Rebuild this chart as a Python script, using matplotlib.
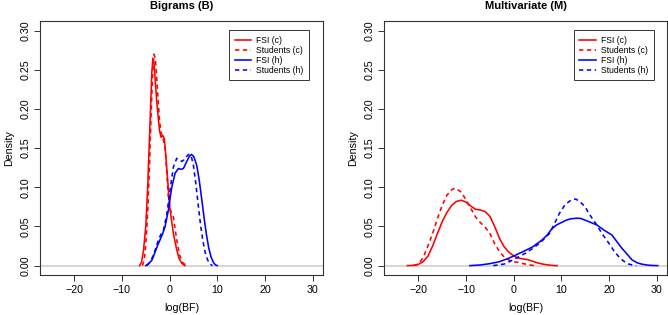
import matplotlib
matplotlib.use("Agg")
import matplotlib.pyplot as plt

plt.rcParams['font.family'] = ['Liberation Sans', 'DejaVu Sans']

# ---------------- data ----------------
titles = ["Bigrams (B)", "Multivariate (M)"]
legend_labels = ["FSI (c)", "Students (c)", "FSI (h)", "Students (h)"]
x_ticks = [-20, -10, 0, 10, 20, 30]
y_ticks = [0.00, 0.05, 0.10, 0.15, 0.20, 0.25, 0.30]
y_tick_labels = ["0.00", "0.05", "0.10", "0.15", "0.20", "0.25", "0.30"]

# Bigrams
bg_fsi_c_x = [-6.3, -5.9, -5.5, -5.0, -4.6, -4.3, -4.0, -3.75, -3.5, -3.25, -3.0, -2.7, -2.4,
              -2.1, -1.8, -1.4, -1.1, -0.9, -0.6, -0.25, 0.1, 0.8, 1.5, 2.0, 2.55, 3.2]
bg_fsi_c_y = [0.0, 0.004, 0.018, 0.05, 0.10, 0.15, 0.20, 0.245, 0.265, 0.258, 0.235, 0.21, 0.19,
              0.172, 0.164, 0.166, 0.162, 0.148, 0.125, 0.097, 0.071, 0.041, 0.02, 0.009, 0.003, 0.0]

bg_stu_c_x = [-5.7, -5.3, -4.9, -4.5, -4.2, -3.9, -3.6, -3.3, -3.0, -2.7, -2.4, -2.1, -1.8, -1.5,
              -1.2, -0.9, -0.6, -0.3, 0.1, 0.5, 0.8, 1.2, 1.5, 1.9, 2.2, 2.7, 3.3, 3.8]
bg_stu_c_y = [0.0, 0.008, 0.035, 0.08, 0.13, 0.19, 0.24, 0.27, 0.265, 0.24, 0.21, 0.185, 0.17, 0.165,
              0.158, 0.148, 0.12, 0.09, 0.072, 0.066, 0.062, 0.045, 0.033, 0.02, 0.0115, 0.004, 0.001, 0.0]

bg_fsi_h_x = [-5.0, -4.5, -4.0, -3.7, -3.0, -2.5, -2.0, -1.5, -0.94, -0.25, 0.45, 1.15, 1.85, 2.4,
              2.9, 3.6, 4.1, 4.6, 5.1, 5.7, 6.2, 6.7, 7.2, 7.7, 8.2, 8.7, 9.2, 9.6, 10.0]
bg_fsi_h_y = [0.0, 0.002, 0.005, 0.007, 0.018, 0.026, 0.033, 0.04, 0.05, 0.071, 0.10, 0.118, 0.124, 0.123,
              0.124, 0.133, 0.139, 0.142, 0.139, 0.128, 0.11, 0.087, 0.063, 0.041, 0.023, 0.011, 0.004, 0.001, 0.0]

bg_stu_h_x = [-4.8, -4.3, -3.8, -3.3, -2.8, -2.3, -1.8, -1.3, -0.6, 0.1, 0.8, 1.5, 2.0, 2.55, 3.0,
              3.5, 4.0, 4.5, 5.0, 5.5, 6.0, 6.5, 7.0, 7.5, 8.0, 8.5, 9.0]
bg_stu_h_y = [0.0, 0.003, 0.008, 0.015, 0.024, 0.034, 0.04, 0.045, 0.065, 0.097, 0.126, 0.137, 0.135, 0.133, 0.135,
              0.139, 0.142, 0.141, 0.128, 0.105, 0.078, 0.052, 0.031, 0.016, 0.007, 0.002, 0.0]

# Multivariate
mv_fsi_c_x = [-22.3, -21, -20, -19, -18, -17, -16, -15, -14, -13, -12, -11, -10, -9, -8, -7, -6, -5,
              -4, -3, -2, -1, 0, 1, 2, 3, 4, 5, 6, 7, 8, 9.1]
mv_fsi_c_y = [0.0, 0.0003, 0.0015, 0.005, 0.012, 0.025, 0.041, 0.056, 0.068, 0.077, 0.082, 0.0835, 0.081,
              0.076, 0.072, 0.071, 0.069, 0.063, 0.05, 0.035, 0.024, 0.017, 0.0125, 0.0095, 0.0085, 0.0075,
              0.0055, 0.0035, 0.002, 0.001, 0.0003, 0.0]

mv_stu_c_x = [-21, -20, -19, -18, -17, -16, -15, -14, -13, -12.3, -11, -10, -9, -8, -7, -6, -5, -4, -3,
              -2, -1, 0, 1, 2, 3, 4, 4.5]
mv_stu_c_y = [0.0, 0.002, 0.01, 0.025, 0.041, 0.06, 0.077, 0.09, 0.097, 0.099, 0.094, 0.084, 0.073, 0.062,
              0.055, 0.049, 0.041, 0.028, 0.018, 0.011, 0.007, 0.005, 0.004, 0.0025, 0.0012, 0.0003, 0.0]

mv_fsi_h_x = [-9.2, -7, -5, -3, -1, 0.5, 2, 4, 6, 7, 8, 9, 10, 11, 12, 13.2, 14, 15, 16, 17.4, 19, 20.6,
              21.7, 22.7, 23.8, 24.8, 25.9, 26.9, 28, 29, 30.2]
mv_fsi_h_y = [0.0, 0.0008, 0.0025, 0.005, 0.0095, 0.0137, 0.018, 0.024, 0.033, 0.039, 0.047, 0.052, 0.055,
              0.058, 0.0598, 0.0605, 0.0603, 0.058, 0.0555, 0.052, 0.045, 0.039, 0.03, 0.022, 0.0145, 0.0073,
              0.0035, 0.0018, 0.0007, 0.0002, 0.0]

mv_stu_h_x = [-4.3, -2, -0.9, 1, 2.5, 4.0, 5.5, 7.5, 8.5, 9.6, 10.8, 12.1, 13.0, 13.8, 15.0, 15.7, 17.4,
              18.5, 19.9, 21.0, 22.0, 23.0, 24.1, 25.0, 25.7]
mv_stu_h_y = [0.0, 0.002, 0.005, 0.011, 0.016, 0.022, 0.029, 0.041, 0.053, 0.067, 0.078, 0.084, 0.085,
              0.082, 0.075, 0.067, 0.052, 0.041, 0.029, 0.019, 0.0115, 0.006, 0.002, 0.0006, 0.0]

panels = [
    [(bg_fsi_c_x, bg_fsi_c_y), (bg_stu_c_x, bg_stu_c_y), (bg_fsi_h_x, bg_fsi_h_y), (bg_stu_h_x, bg_stu_h_y)],
    [(mv_fsi_c_x, mv_fsi_c_y), (mv_stu_c_x, mv_stu_c_y), (mv_fsi_h_x, mv_fsi_h_y), (mv_stu_h_x, mv_stu_h_y)],
]
colors = ["#FF0000", "#FF0000", "#0000FF", "#0000FF"]
styles = ["solid", "dashed", "solid", "dashed"]

# ---------------- figure ----------------
W, H = 668, 315
fig = plt.figure(figsize=(W / 100, H / 100), dpi=100)
ax_rects = [
    (40 / W, 40 / H, 283 / W, 253.7 / H),
    (384 / W, 40 / H, 283.3 / W, 253.7 / H),
]

for i, rect in enumerate(ax_rects):
    ax = fig.add_axes(rect)
    ax.axhline(0, color="#D3D3D3", lw=1.3, zorder=1)
    for (xs, ys), c, ls, lab in zip(panels[i], colors, styles, legend_labels):
        line, = ax.plot(xs, ys, color=c, lw=1.15, label=lab, zorder=3)
        if ls == "dashed":
            line.set_dashes((2.7, 2.2))
    ax.set_xlim(-27.2, 32.2)
    ax.set_ylim(-0.012, 0.312)
    ax.set_xticks(x_ticks)
    ax.set_xticklabels([str(t).replace("-", "\u2212") for t in x_ticks])
    ax.set_yticks(y_ticks)
    ax.set_yticklabels(y_tick_labels, rotation=90, va="center")
    ax.tick_params(axis="both", direction="out", length=4.0, width=0.7, labelsize=7.7, color="#333333")
    ax.tick_params(axis="x", pad=3.2)
    ax.tick_params(axis="y", pad=2.6)
    for sp in ax.spines.values():
        sp.set_linewidth(0.8)
        sp.set_color("#333333")
    ax.set_title(titles[i], fontsize=8, fontweight="bold", pad=9)
    ax.set_xlabel("log(BF)", fontsize=7.7, labelpad=6)
    ax.set_ylabel("Density", fontsize=7.7, labelpad=5)
    leg = ax.legend(loc="upper right", bbox_to_anchor=(0.952, 0.966), fontsize=6.2,
                    frameon=True, fancybox=False, framealpha=1, edgecolor="#333333",
                    handlelength=1.9, handletextpad=0.6, labelspacing=0.12, borderpad=0.65,
                    borderaxespad=0.0)
    leg.get_frame().set_linewidth(0.7)

fig.savefig("out.png", dpi=100)
